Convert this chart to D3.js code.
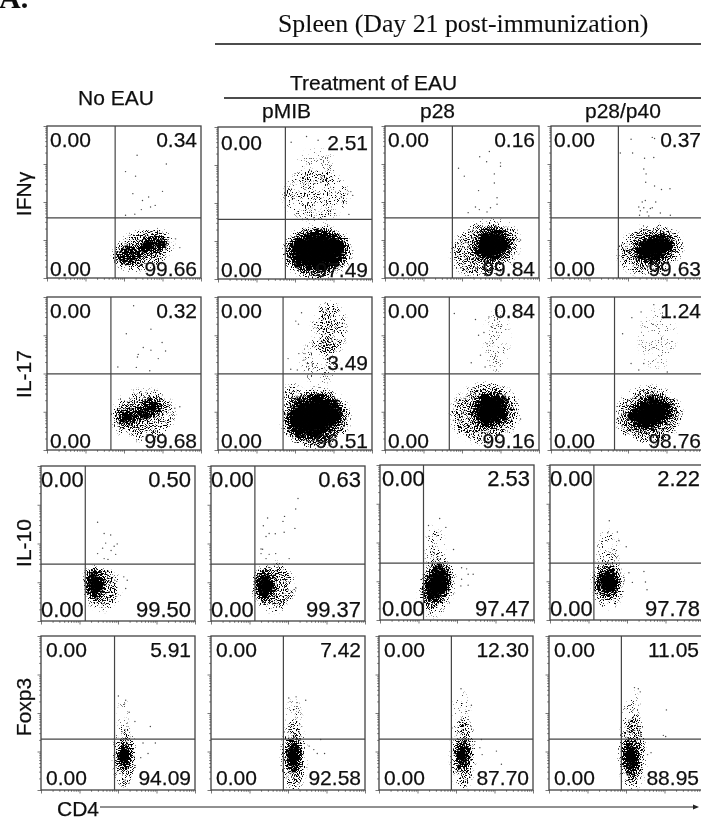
<!DOCTYPE html>
<html>
<head>
<meta charset="utf-8">
<script src="https://cdnjs.cloudflare.com/ajax/libs/d3/7.8.5/d3.min.js"></script>
<style>
  body { margin: 0; background: #fff; }
  text { font-family: "Liberation Sans", Arial, sans-serif; fill: #111; stroke: #111; stroke-width: 0.25; }
  .serif { font-family: "Liberation Serif", "Times New Roman", serif; stroke-width: 0.1; }
  .axis path { display: none; }
  .axis line { stroke: #555; stroke-width: 0.8; }
</style>
</head>
<body>
<div id="chart"></div>
<script>
var svgWidth = 701;
var svgHeight = 818;

// table labels and the values printed in the quadrants
var columns = ["No EAU", "pMIB", "p28", "p28/p40"];
var markers = ["IFNγ", "IL-17", "IL-10", "Foxp3"];
var upperLeft = ["0.00", "0.00", "0.00", "0.00"];
var lowerLeft = ["0.00", "0.00", "0.00", "0.00"];
var upperRight = [
  ["0.34", "2.51", "0.16", "0.37"],
  ["0.32", "3.49", "0.84", "1.24"],
  ["0.50", "0.63", "2.53", "2.22"],
  ["5.91", "7.42", "12.30", "11.05"]
];
var lowerRight = [
  ["99.66", "97.49", "99.84", "99.63"],
  ["99.68", "96.51", "99.16", "98.76"],
  ["99.50", "99.37", "97.47", "97.78"],
  ["94.09", "92.58", "87.70", "88.95"]
];

// quadrant gates, in log decades (axes run 0 to 4)
var gateX = [
  [1.77, 1.75, 1.75, 1.75],
  [1.66, 1.69, 1.67, 1.65],
  [1.15, 1.14, 1.13, 1.14],
  [1.91, 1.88, 1.88, 1.88]
];
var gateY = [
  [1.58, 1.57, 1.58, 1.58],
  [1.99, 1.99, 1.99, 1.99],
  [1.47, 1.47, 1.47, 1.47],
  [1.32, 1.32, 1.32, 1.32]
];

// dense clouds: [centre x, centre y, radius x, radius y, tilt, density]
var clouds = [
  [
    [[2.50, .74, .78, .50, -20, .38], [2.76, .87, .34, .22, -20, .85], [2.15, .61, .37, .24, -10, .7]],
    [[2.54, 2.20, .85, .65, 0, .24], [2.55, 2.95, .55, .50, 0, .13], [2.58, .72, .85, .65, -5, .65], [2.58, .74, .68, .48, -5, 1]],
    [[2.61, .78, .90, .68, -25, .4], [2.78, .87, .46, .40, -30, 1]],
    [[2.58, .74, .83, .62, -15, .42], [2.67, .78, .50, .34, -20, 1]]
  ],
  [
    [[2.50, .91, .80, .65, -10, .34], [2.67, 1.09, .34, .22, -20, .85], [2.15, .87, .37, .22, -5, .7]],
    [[2.89, 3.17, .42, .68, 0, .34], [2.63, 2.30, .50, .60, 0, .16], [1.93, 1.43, .20, .30, 0, .35], [2.54, .83, .85, .72, -10, .6], [2.50, .87, .70, .50, -15, 1]],
    [[2.90, 2.85, .35, .85, 0, .14], [2.60, .96, .87, .75, -15, .42], [2.74, 1.04, .46, .42, -25, 1]],
    [[2.76, 2.90, .50, .80, 0, .13], [2.54, .91, .83, .72, -10, .45], [2.58, .96, .55, .38, -20, 1]]
  ],
  [
    [[1.60, .84, .42, .55, 0, .42], [1.38, .97, .22, .38, 0, 1]],
    [[1.64, .88, .50, .62, 0, .4], [1.38, .92, .25, .38, 0, 1]],
    [[1.43, 1.78, .22, .65, 0, .25], [1.48, .84, .40, .75, 15, .38], [1.48, .92, .32, .48, 20, 1]],
    [[1.50, 1.78, .28, .55, 0, .2], [1.50, .92, .38, .60, 0, .4], [1.50, .97, .30, .33, 0, 1]]
  ],
  [
    [[2.13, 1.95, .12, .50, 0, .18], [2.17, .85, .25, .75, 0, .42], [2.17, .88, .17, .33, 0, 1]],
    [[2.15, 1.90, .18, .45, 0, .22], [2.15, .85, .28, .85, 0, .42], [2.15, .88, .18, .42, 0, 1]],
    [[2.14, 2.07, .20, .50, 0, .2], [2.18, .94, .28, .90, 0, .4], [2.18, .90, .17, .36, 0, 1]],
    [[2.13, 2.07, .22, .55, 0, .18], [2.17, .98, .32, .95, 0, .42], [2.13, .85, .19, .44, 0, 1]]
  ]
];

// single events outside the clouds: [x, y] in log decades
var strayEvents = [
  [
    [[2.34,3.23],[3.10,3.00],[2.04,2.80],[2.30,2.68],[2.23,2.22],[3.00,2.28],[2.48,2.04],[2.64,2.13],[2.81,1.91],[2.69,1.87],[2.04,1.65],[2.28,1.68],[2.45,1.80],[3.45,.80],[3.34,1.03]],
    [[1.90,3.60],[2.30,3.75],[2.60,3.65],[3.40,1.70],[3.45,2.30],[3.50,2.20]],
    [[2.46,3.19],[2.71,3.33],[2.64,3.06],[3.00,3.03],[3.00,2.94],[1.91,2.89],[2.06,2.68],[2.84,2.74],[2.84,2.50],[2.43,2.30],[2.91,2.11],[2.91,1.94],[2.74,1.85],[2.35,1.87],[2.45,1.80],[2.65,1.74],[2.16,1.72],[3.52,1.00]],
    [[2.08,3.65],[2.63,3.70],[2.69,3.67],[1.80,3.29],[2.12,3.29],[2.43,3.15],[2.67,3.17],[2.41,2.87],[2.47,2.74],[2.46,2.52],[2.69,2.42],[2.87,2.33],[3.09,2.35],[2.45,2.04],[2.37,2.00],[2.72,2.00],[2.28,1.87],[2.41,1.85],[2.58,1.83],[2.32,1.77],[2.50,1.74],[2.63,1.85],[2.84,1.71],[3.10,1.65],[2.30,1.65],[2.54,1.63]]
  ],
  [
    [[2.25,3.77],[2.06,3.04],[2.70,3.16],[2.99,2.81],[2.50,2.68],[2.70,2.61],[3.08,2.59],[2.37,2.50],[2.35,2.43],[2.89,2.39],[1.84,2.17],[2.32,2.16],[2.67,2.07],[3.45,1.13],[3.32,1.09]],
    [[2.17,3.59],[2.02,3.37],[2.09,3.29],[1.82,2.39],[2.26,2.52],[2.10,2.52],[1.89,2.11],[2.06,2.09],[2.32,2.26],[2.45,2.22],[2.23,2.35]],
    [[1.80,3.57],[2.35,3.41],[2.43,3.00],[2.24,2.28],[2.48,2.48],[2.60,2.17],[3.52,.81],[2.70,3.48],[2.57,3.07],[2.65,2.78]],
    [[2.10,3.46],[1.86,3.04],[2.34,3.61],[2.67,3.80],[2.08,2.26],[2.28,2.09],[2.41,2.26],[3.02,2.04]]
  ],
  [
    [[1.47,2.55],[1.64,2.26],[1.81,2.22],[1.68,2.01],[1.98,1.99],[1.90,1.93],[1.60,1.88],[1.82,1.82],[1.47,1.74],[1.94,1.72],[1.64,1.61],[1.74,1.59],[2.15,1.14],[2.20,.84],[2.24,1.05]],
    [[2.26,3.16],[2.20,2.89],[1.91,2.70],[1.47,2.66],[1.87,2.57],[1.36,2.46],[2.18,2.39],[1.90,2.29],[1.67,2.25],[1.51,2.26],[1.43,2.18],[1.30,1.86],[1.34,1.85],[1.30,1.74],[1.51,1.72],[1.68,1.74],[1.43,1.61],[2.03,1.61],[2.20,.86]],
    [[1.55,2.62],[1.26,2.44],[1.71,2.39],[1.91,1.82],[2.12,1.35],[2.25,1.32],[2.42,1.18],[2.29,1.18],[2.12,1.05],[2.29,.90],[2.10,.88]],
    [[1.54,2.56],[1.75,2.27],[1.50,2.25],[1.98,1.89],[1.79,2.05],[2.44,1.25],[2.48,.98],[2.52,.78],[2.14,.97],[2.05,1.22]]
  ],
  [
    [[2.01,2.44],[2.20,2.33],[2.29,2.02],[2.44,1.78],[2.84,1.65],[2.97,1.22],[2.78,.95],[2.65,1.22],[2.59,.84]],
    [[2.02,2.39],[2.21,2.42],[2.23,2.27],[2.46,2.33],[2.85,1.31],[2.95,.95],[2.76,.95],[2.67,1.05],[2.55,1.14]],
    [[2.13,2.63],[2.40,2.20],[2.66,1.31],[3.05,1.01],[3.18,.67],[2.68,.92],[2.62,1.10]],
    [[2.22,2.66],[2.32,2.63],[2.37,2.55],[3.05,2.08],[2.97,1.42],[3.03,1.39],[2.65,.97],[2.56,.92]]
  ]
];

// panel layout in pixels
var panelLeft = [
  [47, 218, 385, 551],
  [47, 218, 385, 551],
  [41, 211, 380, 550],
  [41, 211, 379, 549]
];
var panelTop = [
  [126, 127, 126, 126],
  [297, 297, 297, 297],
  [466, 466, 465, 465],
  [636, 636, 636, 636]
];
var panelWidth = 154;
var panelHeight = [152, 153, 155, 154];
var labelFont = [21, 21, 22, 21];
var baselineTop = [21, 21, 21, 21];
var baselineBottom = [2, 2, 4, 5];
var insetLeft = [[3, 3, 3, 3], [3, 3, 3, 3], [0, 0, 2, 0], [5, 5, 5, 5]];

var svg = d3.select("#chart")
  .append("svg")
  .attr("width", svgWidth)
  .attr("height", svgHeight)
  .style("display", "block");

var defs = svg.append("defs");

// slight softness of the scanned figure
defs.append("filter")
  .attr("id", "scan")
  .attr("x", 0).attr("y", 0)
  .attr("filterUnits", "userSpaceOnUse")
  .attr("width", svgWidth).attr("height", svgHeight)
  .append("feGaussianBlur")
  .attr("stdDeviation", 0.42);

// turns a smooth density shape into a speckle texture, one filter per panel
function addSpeckleFilter(id, seed) {
  var filter = defs.append("filter")
    .attr("id", id)
    .attr("x", "-30%").attr("y", "-30%")
    .attr("width", "160%").attr("height", "160%")
    .attr("color-interpolation-filters", "sRGB");
  filter.append("feGaussianBlur")
    .attr("in", "SourceAlpha")
    .attr("stdDeviation", 3)
    .attr("result", "density");
  filter.append("feTurbulence")
    .attr("type", "fractalNoise")
    .attr("baseFrequency", 0.95)
    .attr("numOctaves", 2)
    .attr("seed", seed)
    .attr("result", "noise");
  filter.append("feColorMatrix")
    .attr("in", "noise")
    .attr("type", "matrix")
    .attr("values", "0 0 0 0 0  0 0 0 0 0  0 0 0 0 0  0 0 0 2.5 -0.75")
    .attr("result", "noiseAlpha");
  filter.append("feComposite")
    .attr("in", "density")
    .attr("in2", "noiseAlpha")
    .attr("operator", "arithmetic")
    .attr("k1", 0).attr("k2", 0.62).attr("k3", 0.5).attr("k4", 0)
    .attr("result", "sum");
  filter.append("feComponentTransfer")
    .attr("in", "sum")
    .append("feFuncA")
    .attr("type", "linear")
    .attr("slope", 10)
    .attr("intercept", -5.2);
}

var chart = svg.append("g").attr("filter", "url(#scan)");

// log axis ticks, majors on the decades
var decades = d3.range(0, 5);
var minorTicks = [];
d3.range(0, 4).forEach(function(d) {
  d3.range(2, 10).forEach(function(k) {
    minorTicks.push(d + Math.log10(k));
  });
});

function drawPanel(r, c) {
  var left = panelLeft[r][c];
  var top = panelTop[r][c];
  var height = panelHeight[r];

  var xScale = d3.scaleLinear().domain([0, 4]).range([0, panelWidth]);
  var yScale = d3.scaleLinear().domain([0, 4]).range([height, 0]);

  var panel = chart.append("g")
    .attr("transform", `translate(${left}, ${top})`);

  var clipId = `clip-${r}-${c}`;
  defs.append("clipPath")
    .attr("id", clipId)
    .append("rect")
    .attr("width", panelWidth)
    .attr("height", height);

  var filterId = `speckle-${r}-${c}`;
  addSpeckleFilter(filterId, r * 4 + c + 3);

  // cloud
  panel.append("g")
    .attr("clip-path", `url(#${clipId})`)
    .append("g")
    .attr("filter", `url(#${filterId})`)
    .selectAll("ellipse")
    .data(clouds[r][c])
    .enter()
    .append("ellipse")
    .attr("transform", d => `translate(${xScale(d[0])}, ${yScale(d[1])}) rotate(${d[4]})`)
    .attr("rx", d => xScale(d[2]))
    .attr("ry", d => height - yScale(d[3]))
    .attr("fill", "#000")
    .attr("fill-opacity", d => d[5]);

  // stray events
  panel.selectAll("circle")
    .data(strayEvents[r][c])
    .enter()
    .append("circle")
    .attr("cx", d => xScale(d[0]))
    .attr("cy", d => yScale(d[1]))
    .attr("r", 0.7)
    .attr("fill", "#444");

  // ticks
  panel.append("g")
    .attr("class", "axis")
    .call(d3.axisLeft(yScale).tickValues(decades).tickSize(3.5).tickFormat(""));
  panel.append("g")
    .attr("class", "axis")
    .call(d3.axisLeft(yScale).tickValues(minorTicks).tickSize(1.8).tickFormat(""));
  panel.append("g")
    .attr("class", "axis")
    .attr("transform", `translate(0, ${height})`)
    .call(d3.axisBottom(xScale).tickValues(decades).tickSize(3.5).tickFormat(""));
  panel.append("g")
    .attr("class", "axis")
    .attr("transform", `translate(0, ${height})`)
    .call(d3.axisBottom(xScale).tickValues(minorTicks).tickSize(1.8).tickFormat(""));

  // frame and gates
  panel.append("rect")
    .attr("width", panelWidth)
    .attr("height", height)
    .attr("fill", "none")
    .attr("stroke", "#444")
    .attr("stroke-width", 1.3);
  panel.append("line")
    .attr("x1", xScale(gateX[r][c])).attr("x2", xScale(gateX[r][c]))
    .attr("y1", 0).attr("y2", height)
    .attr("stroke", "#444").attr("stroke-width", 1.2);
  panel.append("line")
    .attr("x1", 0).attr("x2", panelWidth)
    .attr("y1", yScale(gateY[r][c])).attr("y2", yScale(gateY[r][c]))
    .attr("stroke", "#444").attr("stroke-width", 1.2);

  // quadrant percentages
  var fontSize = labelFont[r];
  var xL = insetLeft[r][c];
  var xR = panelWidth - 4;
  var yT = baselineTop[r] + (r === 0 && c === 1 ? 2 : 0);
  var yB = height - baselineBottom[r];

  panel.append("text").attr("x", xL).attr("y", yT)
    .attr("font-size", fontSize).text(upperLeft[c]);
  panel.append("text").attr("x", xL).attr("y", yB)
    .attr("font-size", fontSize).text(lowerLeft[c]);
  // 3.49 sits just above the gate in this one panel
  panel.append("text").attr("x", xR).attr("y", r === 1 && c === 1 ? yScale(gateY[r][c]) - 4 : yT)
    .attr("font-size", fontSize).attr("text-anchor", "end").text(upperRight[r][c]);
  panel.append("text").attr("x", xR).attr("y", yB)
    .attr("font-size", fontSize).attr("text-anchor", "end").text(lowerRight[r][c]);
}

markers.forEach(function(m, r) {
  columns.forEach(function(col, c) {
    drawPanel(r, c);
  });
});

// headers
chart.append("text")
  .attr("class", "serif")
  .attr("x", -1).attr("y", 8)
  .attr("font-size", 30).attr("font-weight", "bold")
  .text("A.");
chart.append("text")
  .attr("class", "serif")
  .attr("x", 278).attr("y", 32)
  .attr("font-size", 25.8)
  .text("Spleen (Day 21 post-immunization)");
chart.append("line")
  .attr("x1", 215).attr("x2", 701).attr("y1", 44).attr("y2", 44)
  .attr("stroke", "#111").attr("stroke-width", 1.6);

chart.append("text")
  .attr("x", 290).attr("y", 90).attr("font-size", 21)
  .text("Treatment of EAU");
chart.append("line")
  .attr("x1", 224).attr("x2", 701).attr("y1", 98).attr("y2", 98)
  .attr("stroke", "#111").attr("stroke-width", 1.3);

var columnX = [78, 262, 420, 585];
var columnY = [105, 118, 118, 118];
columns.forEach(function(col, c) {
  chart.append("text")
    .attr("x", columnX[c]).attr("y", columnY[c]).attr("font-size", 21)
    .text(col);
});

var markerY = [194, 374, 543, 707];
markers.forEach(function(m, r) {
  chart.append("text")
    .attr("transform", `translate(31, ${markerY[r]}) rotate(-90)`)
    .attr("text-anchor", "middle")
    .attr("font-size", 21)
    .text(m);
});

// CD4 axis arrow
chart.append("text")
  .attr("x", 57).attr("y", 816).attr("font-size", 21)
  .text("CD4");
chart.append("line")
  .attr("x1", 100).attr("x2", 694).attr("y1", 807).attr("y2", 807)
  .attr("stroke", "#222").attr("stroke-width", 1);
chart.append("path")
  .attr("d", d3.line()([[693, 804.5], [699, 807], [693, 809.5]]))
  .attr("fill", "#222");
</script>
</body>
</html>
